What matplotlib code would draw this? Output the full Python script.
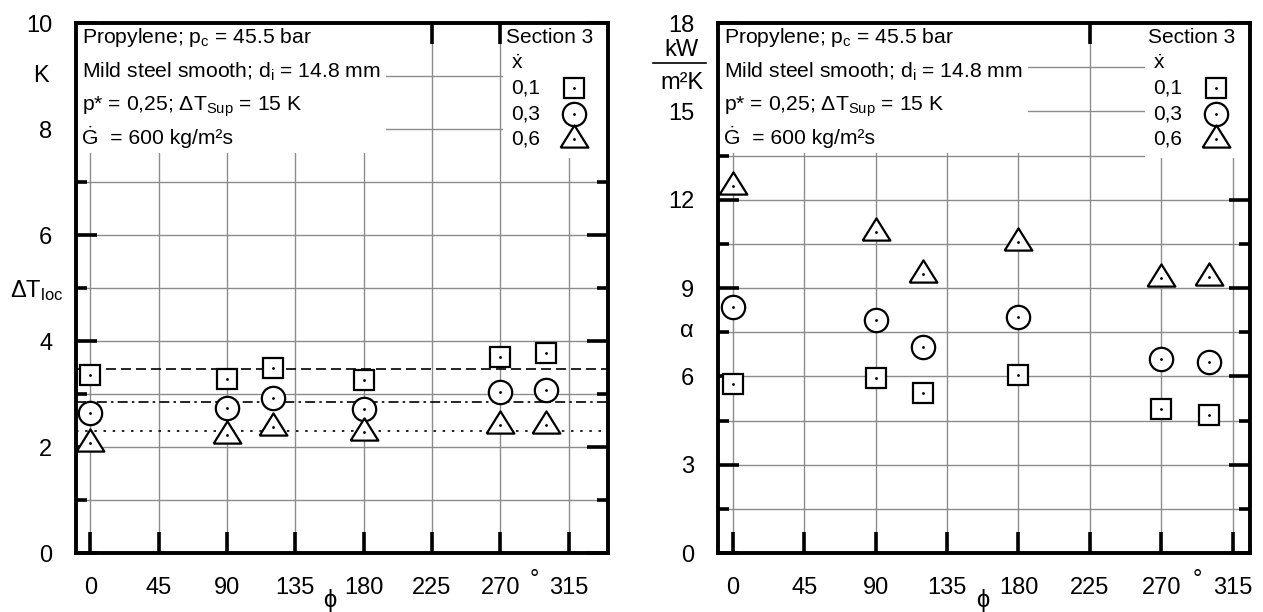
import numpy as np
import matplotlib.pyplot as plt
from matplotlib.patches import Rectangle

plt.switch_backend('Agg')
plt.rcParams['font.family'] = ['Liberation Sans', 'DejaVu Sans']
plt.rcParams['mathtext.fontset'] = 'custom'
plt.rcParams['mathtext.rm'] = 'Liberation Sans'
plt.rcParams['mathtext.it'] = 'Liberation Sans:italic'
plt.rcParams['mathtext.bf'] = 'Liberation Sans:bold'

# circumferential position, degrees
phi = [0, 90, 120, 180, 270, 300]
x_ticks = [0, 45, 90, 135, 180, 225, 270, 315]
quality_labels = ['0,1', '0,3', '0,6']

# local wall superheat dT_loc, K
dT_x01 = [3.36, 3.28, 3.50, 3.26, 3.70, 3.78]
dT_x03 = [2.65, 2.74, 2.93, 2.72, 3.04, 3.07]
dT_x06 = [2.07, 2.23, 2.38, 2.28, 2.42, 2.42]

# local heat transfer coefficient alpha, kW/m2K
alpha_x01 = [5.75, 5.96, 5.42, 6.06, 4.89, 4.70]
alpha_x03 = [8.36, 7.93, 7.00, 8.03, 6.59, 6.49]
alpha_x06 = [12.47, 10.89, 9.49, 10.55, 9.34, 9.38]

info_lines = [
    'Propylene; p$_\\mathrm{c}$ = 45.5 bar',
    'Mild steel smooth; d$_\\mathrm{i}$ = 14.8 mm',
    'p* = 0,25; \u0394T$_\\mathrm{Sup}$ = 15 K',
    '\u0120  = 600 kg/m\u00b2s',
]

# marker styles for x = 0.1 / 0.3 / 0.6
triangle = [(-1.25, -0.73), (1.25, -0.73), (0, 1.27), (-1.25, -0.73)]
marker_styles = [
    dict(marker='s', ms=14.6),
    dict(marker='o', ms=16.8),
    dict(marker=triangle, ms=20.3),
]
mean_styles = [(0, (6, 3)), (0, (6, 2.5, 1.5, 2.5)), (0, (1.5, 4))]


def style_axes(ax, ymax, ystep, xlim):
    ax.set_xlim(*xlim)
    ax.set_ylim(0, ymax)
    ax.set_xticks(x_ticks)
    ax.set_yticks(np.arange(0, ymax + 0.01, ystep))
    ax.set_yticks(np.arange(ystep / 2, ymax, ystep), minor=True)
    ax.yaxis.set_major_formatter(plt.FormatStrFormatter('%d'))
    ax.grid(True, which='both', color='#8c8c8c', lw=1.0)
    ax.set_axisbelow(True)
    ax.tick_params(which='both', direction='in', top=True, right=True,
                   width=2.6, color='k', labelsize=17)
    ax.tick_params(which='major', length=15)
    ax.tick_params(which='minor', length=8)
    ax.tick_params(axis='y', pad=17)
    ax.tick_params(axis='x', pad=17)
    for sp in ax.spines.values():
        sp.set_linewidth(2.8)
        sp.set_zorder(6)

    # white boxes with the test conditions and the key
    ax.add_patch(Rectangle((0, 0.754), 0.583, 0.246, transform=ax.transAxes,
                           facecolor='white', edgecolor='none', zorder=3))
    ax.add_patch(Rectangle((0.803, 0.745), 0.197, 0.255, transform=ax.transAxes,
                           facecolor='white', edgecolor='none', zorder=3))
    for txt, yy in zip(info_lines, [0.972, 0.908, 0.842, 0.785]):
        ax.text(0.011, yy, txt, transform=ax.transAxes, fontsize=15.2,
                ha='left', va='center', zorder=7)
    ax.text(0.891, 0.972, 'Section 3', transform=ax.transAxes, fontsize=15,
            ha='center', va='center', zorder=7)
    ax.text(0.83, 0.913, '$\\dot{\\mathrm{x}}$', transform=ax.transAxes,
            fontsize=15, ha='center', va='baseline', zorder=7)
    for lab, st, yy in zip(quality_labels, marker_styles, [0.877, 0.828, 0.781]):
        ax.text(0.846, yy, lab, transform=ax.transAxes, fontsize=15,
                ha='center', va='center', zorder=7)
        ax.plot([0.937], [yy], transform=ax.transAxes, ls='none', mfc='white',
                mec='k', mew=1.6, zorder=7, clip_on=False, **st)
        ax.plot([0.937], [yy], '.', ms=2, color='k', transform=ax.transAxes, zorder=8)

    # axis labels placed like the original
    tx = ax.get_xaxis_transform()
    ax.text(157.5, -0.089, '\u03d5', transform=tx, fontsize=17,
            ha='center', va='center')
    ax.text(292.5, -0.062, '\u00b0', transform=tx, fontsize=17,
            ha='center', va='baseline')


def plot_series(ax, series):
    for vals, st in zip(series, marker_styles):
        ax.plot(phi, vals, ls='none', mfc='white', mec='k', mew=1.6, zorder=5, **st)
        ax.plot(phi, vals, '.', ms=2, color='k', zorder=5.5)


fig = plt.figure(figsize=(12.63, 6.12), dpi=100)
ax1 = fig.add_axes([0.0602, 0.0964, 0.4212, 0.866])
ax2 = fig.add_axes([0.5685, 0.0964, 0.4212, 0.866])

# left: local wall superheat
style_axes(ax1, 10, 2, (-9.5, 341))
dT_series = [dT_x01, dT_x03, dT_x06]
for vals, ls in zip(dT_series, mean_styles):
    ax1.axhline(np.mean(vals), color='k', lw=1.2, ls=ls, zorder=4)
plot_series(ax1, dT_series)
ty = ax1.get_yaxis_transform()
ax1.text(-0.066, 9.0, 'K', transform=ty, fontsize=17, ha='center', va='center')
ax1.text(-0.075, 4.95, '\u0394T$_\\mathrm{loc}$', transform=ty, fontsize=17,
         ha='center', va='center')

# right: local heat transfer coefficient
style_axes(ax2, 18, 3, (-9.5, 326))
plot_series(ax2, [alpha_x01, alpha_x03, alpha_x06])
ty = ax2.get_yaxis_transform()
ax2.text(-0.068, 17.1, 'kW', transform=ty, fontsize=17, ha='center', va='center')
ax2.plot([-0.122, -0.022], [16.65, 16.65], transform=ty, color='k', lw=1.2,
         clip_on=False)
ax2.text(-0.068, 15.95, 'm\u00b2K', transform=ty, fontsize=17, ha='center',
         va='center')
ax2.text(-0.058, 7.55, '\u03b1', transform=ty, fontsize=17, ha='center',
         va='center')

plt.savefig('out.png', dpi=100)
